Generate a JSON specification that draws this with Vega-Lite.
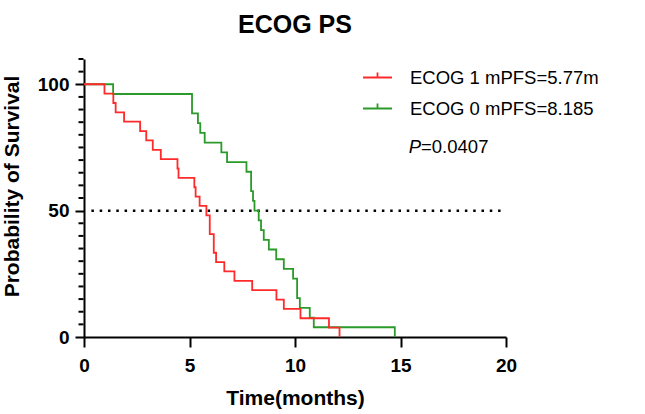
{
  "$schema": "https://vega.github.io/schema/vega-lite/v6.json",
  "width": 422,
  "height": 278,
  "autosize": "none",
  "padding": {"left": 84, "top": 59, "right": 139, "bottom": 77},
  "background": "white",
  "config": {"view": {"stroke": null}, "font": "Liberation Sans"},
  "title": {
    "text": "ECOG PS",
    "fontSize": 25,
    "fontWeight": "bold",
    "color": "black",
    "anchor": "middle",
    "baseline": "alphabetic",
    "offset": 8,
    "dy": 8
  },
  "resolve": {"scale": {"y": "independent"}, "axis": {"y": "independent"}},
  "layer": [
    {
      "data": {"values": [{"x": 0.35, "x2": 20, "y": 50}]},
      "mark": {"type": "rule", "strokeDash": [2.5, 5.8], "strokeWidth": 2.5, "color": "black"},
      "encoding": {
        "x": {"field": "x", "type": "quantitative"},
        "x2": {"field": "x2"},
        "y": {"field": "y", "type": "quantitative", "scale": {"domain": [0, 110], "nice": false}, "axis": null}
      }
    },
    {
      "data": {
        "values": [
          {"x": 0, "y": 5}, {"x": 0, "y": 10}, {"x": 0, "y": 15}, {"x": 0, "y": 20},
          {"x": 0, "y": 25}, {"x": 0, "y": 30}, {"x": 0, "y": 35}, {"x": 0, "y": 40},
          {"x": 0, "y": 45}, {"x": 0, "y": 55}, {"x": 0, "y": 60}, {"x": 0, "y": 65},
          {"x": 0, "y": 70}, {"x": 0, "y": 75}, {"x": 0, "y": 80}, {"x": 0, "y": 85},
          {"x": 0, "y": 90}, {"x": 0, "y": 95}, {"x": 0, "y": 105}, {"x": 0, "y": 110}
        ]
      },
      "mark": {"type": "tick", "orient": "horizontal", "size": 5, "thickness": 2, "color": "black", "opacity": 1, "xOffset": -3},
      "encoding": {
        "x": {"field": "x", "type": "quantitative"},
        "y": {"field": "y", "type": "quantitative", "scale": {"domain": [0, 110], "nice": false}, "axis": null}
      }
    },
    {
      "data": {
        "values": [
          {"group": "ECOG 0 mPFS=8.185", "time": 0, "surv": 100},
          {"group": "ECOG 0 mPFS=8.185", "time": 1.38, "surv": 96.15},
          {"group": "ECOG 0 mPFS=8.185", "time": 5.12, "surv": 88.46},
          {"group": "ECOG 0 mPFS=8.185", "time": 5.4, "surv": 84.62},
          {"group": "ECOG 0 mPFS=8.185", "time": 5.51, "surv": 80.77},
          {"group": "ECOG 0 mPFS=8.185", "time": 5.72, "surv": 76.92},
          {"group": "ECOG 0 mPFS=8.185", "time": 6.51, "surv": 73.08},
          {"group": "ECOG 0 mPFS=8.185", "time": 6.78, "surv": 69.23},
          {"group": "ECOG 0 mPFS=8.185", "time": 7.7, "surv": 65.38},
          {"group": "ECOG 0 mPFS=8.185", "time": 7.92, "surv": 57.69},
          {"group": "ECOG 0 mPFS=8.185", "time": 8.01, "surv": 53.85},
          {"group": "ECOG 0 mPFS=8.185", "time": 8.08, "surv": 50},
          {"group": "ECOG 0 mPFS=8.185", "time": 8.28, "surv": 46.15},
          {"group": "ECOG 0 mPFS=8.185", "time": 8.39, "surv": 42.31},
          {"group": "ECOG 0 mPFS=8.185", "time": 8.52, "surv": 38.46},
          {"group": "ECOG 0 mPFS=8.185", "time": 8.76, "surv": 34.62},
          {"group": "ECOG 0 mPFS=8.185", "time": 9.11, "surv": 30.77},
          {"group": "ECOG 0 mPFS=8.185", "time": 9.47, "surv": 26.92},
          {"group": "ECOG 0 mPFS=8.185", "time": 9.91, "surv": 23.08},
          {"group": "ECOG 0 mPFS=8.185", "time": 10.1, "surv": 15.38},
          {"group": "ECOG 0 mPFS=8.185", "time": 10.23, "surv": 11.54},
          {"group": "ECOG 0 mPFS=8.185", "time": 10.7, "surv": 7.69},
          {"group": "ECOG 0 mPFS=8.185", "time": 10.89, "surv": 3.85},
          {"group": "ECOG 0 mPFS=8.185", "time": 14.73, "surv": 0},
          {"group": "ECOG 1 mPFS=5.77m", "time": 0, "surv": 100},
          {"group": "ECOG 1 mPFS=5.77m", "time": 0.97, "surv": 96.3},
          {"group": "ECOG 1 mPFS=5.77m", "time": 1.39, "surv": 92.59},
          {"group": "ECOG 1 mPFS=5.77m", "time": 1.5, "surv": 88.89},
          {"group": "ECOG 1 mPFS=5.77m", "time": 1.9, "surv": 85.19},
          {"group": "ECOG 1 mPFS=5.77m", "time": 2.66, "surv": 81.48},
          {"group": "ECOG 1 mPFS=5.77m", "time": 2.95, "surv": 77.78},
          {"group": "ECOG 1 mPFS=5.77m", "time": 3.26, "surv": 74.07},
          {"group": "ECOG 1 mPFS=5.77m", "time": 3.64, "surv": 70.37},
          {"group": "ECOG 1 mPFS=5.77m", "time": 4.43, "surv": 66.67},
          {"group": "ECOG 1 mPFS=5.77m", "time": 4.48, "surv": 62.96},
          {"group": "ECOG 1 mPFS=5.77m", "time": 5.23, "surv": 59.26},
          {"group": "ECOG 1 mPFS=5.77m", "time": 5.29, "surv": 55.56},
          {"group": "ECOG 1 mPFS=5.77m", "time": 5.48, "surv": 51.85},
          {"group": "ECOG 1 mPFS=5.77m", "time": 5.8, "surv": 48.15},
          {"group": "ECOG 1 mPFS=5.77m", "time": 5.96, "surv": 40.74},
          {"group": "ECOG 1 mPFS=5.77m", "time": 6.15, "surv": 33.33},
          {"group": "ECOG 1 mPFS=5.77m", "time": 6.26, "surv": 29.63},
          {"group": "ECOG 1 mPFS=5.77m", "time": 6.65, "surv": 25.93},
          {"group": "ECOG 1 mPFS=5.77m", "time": 7.13, "surv": 22.22},
          {"group": "ECOG 1 mPFS=5.77m", "time": 7.97, "surv": 18.52},
          {"group": "ECOG 1 mPFS=5.77m", "time": 9.12, "surv": 14.81},
          {"group": "ECOG 1 mPFS=5.77m", "time": 9.47, "surv": 11.11},
          {"group": "ECOG 1 mPFS=5.77m", "time": 10.26, "surv": 7.41},
          {"group": "ECOG 1 mPFS=5.77m", "time": 11.61, "surv": 3.7},
          {"group": "ECOG 1 mPFS=5.77m", "time": 12.11, "surv": 0}
        ]
      },
      "mark": {"type": "line", "interpolate": "step-after", "strokeWidth": 1.8},
      "encoding": {
        "x": {
          "field": "time",
          "type": "quantitative",
          "scale": {"domain": [0, 20], "nice": false},
          "axis": {
            "values": [0, 5, 10, 15, 20],
            "title": "Time(months)",
            "titleFontSize": 21,
            "titleFontWeight": "bold",
            "titleColor": "black",
            "titlePadding": 12,
            "labelFontSize": 19,
            "labelFontWeight": "bold",
            "labelColor": "black",
            "labelPadding": 9,
            "labelFlush": false,
            "tickSize": 10,
            "tickWidth": 2,
            "tickColor": "black",
            "domainColor": "black",
            "domainWidth": 2,
            "grid": false
          }
        },
        "y": {
          "field": "surv",
          "type": "quantitative",
          "scale": {"domain": [0, 110], "nice": false},
          "axis": {
            "orient": "left",
            "values": [0, 50, 100],
            "tickSize": 9,
            "tickWidth": 2,
            "tickColor": "black",
            "domainColor": "black",
            "domainWidth": 2,
            "labelFontSize": 19,
            "labelFontWeight": "bold",
            "labelColor": "black",
            "labelPadding": 6,
            "labelFlush": false,
            "grid": false,
            "title": "Probability of Survival",
            "titleFontSize": 21,
            "titleFontWeight": "bold",
            "titleColor": "black",
            "titleX": -72,
            "titleY": 127,
            "titleAlign": "center",
            "titleBaseline": "middle"
          }
        },
        "color": {
          "field": "group",
          "type": "nominal",
          "scale": {"domain": ["ECOG 1 mPFS=5.77m", "ECOG 0 mPFS=8.185"], "range": ["#ff2a2a", "#2a9a2a"]},
          "legend": {
            "title": null,
            "orient": "none",
            "legendX": 278,
            "legendY": 3,
            "padding": 0,
            "symbolType": "M-1,0H1M0,0V-0.35",
            "symbolSize": 841,
            "symbolStrokeWidth": 1.8,
            "labelFontSize": 18.5,
            "labelColor": "black",
            "labelOffset": 17,
            "labelLimit": 300,
            "rowPadding": 6
          }
        }
      }
    },
    {
      "data": {"values": [{"x": 15.39, "y": 75.1, "p": "P", "rest": "=0.0407"}]},
      "mark": {"type": "text", "align": "left", "baseline": "middle", "fontSize": 18.5, "fontStyle": "italic", "color": "black"},
      "encoding": {
        "x": {"field": "x", "type": "quantitative"},
        "y": {"field": "y", "type": "quantitative", "scale": {"domain": [0, 110], "nice": false}, "axis": null},
        "text": {"field": "p"}
      }
    },
    {
      "data": {"values": [{"x": 15.39, "y": 75.1, "p": "P", "rest": "=0.0407"}]},
      "mark": {"type": "text", "align": "left", "baseline": "middle", "fontSize": 18.5, "dx": 12.3, "color": "black"},
      "encoding": {
        "x": {"field": "x", "type": "quantitative"},
        "y": {"field": "y", "type": "quantitative", "scale": {"domain": [0, 110], "nice": false}, "axis": null},
        "text": {"field": "rest"}
      }
    }
  ]
}
